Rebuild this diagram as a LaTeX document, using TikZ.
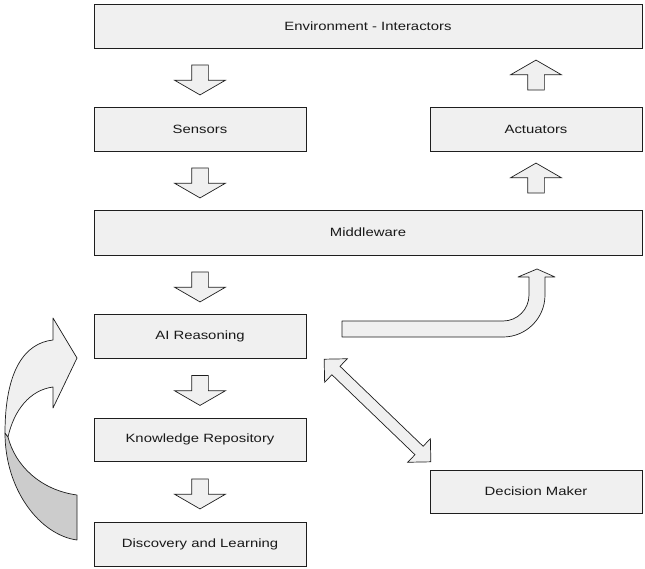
\documentclass[tikz,border=0pt]{standalone}
\usepackage{fontspec}
\setmainfont{Liberation Sans}[FakeStretch=1.24]
\usepackage{tikz}
\usetikzlibrary{calc,positioning,shapes.arrows}
\definecolor{boxfill}{RGB}{240,240,240}
\definecolor{backfill}{RGB}{204,204,204}
\definecolor{edge}{RGB}{30,30,30}
\tikzset{%
  % Specifications for style of nodes:
  base/.style = {rectangle, draw=edge, line width=0.9pt, fill=boxfill,
    minimum width=212pt,
    minimum height=44pt,
    text centered, text=black!90, font=\fontsize{12}{14}\selectfont},
  wide/.style = {base, minimum width=548pt},
  blockarrow/.style = {single arrow, draw=edge, fill=boxfill, line width=0.7pt,
    minimum height=30pt, inner xsep=0pt, inner ysep=8pt,
    single arrow head extend=17pt, single arrow tip angle=120},
  blockdown/.style = {blockarrow, rotate=-90},
  blockup/.style = {blockarrow, rotate=90},
  bothway/.style = {double arrow, draw=edge, fill=boxfill, line width=0.7pt,
    minimum height=148pt, inner xsep=0pt, inner ysep=5.5pt,
    double arrow head extend=10.5pt},
  bent/.style = {draw=edge, fill=boxfill, line width=0.7pt, line join=round},
}

\begin{document}
\begin{tikzpicture}[x=1pt, y=-1pt]
  \useasboundingbox (0,0) rectangle (645,568);
  % Specification of nodes (position, etc.)
  \node(Env)[wide] at (368,26) {Environment - Interactors};
  \node(Sens)[base] at (200,129) {Sensors};
  \node(Act)[base] at (536,129) {Actuators};
  \node(Mid)[wide, minimum height=45pt] at (368,232.5) {Middleware};
  \node(AI)[base] at (200,336) {AI Reasoning};
  \node(Know)[base, minimum height=43pt] at (200,439.5) {Knowledge Repository};
  \node(Dec)[base, minimum height=43pt] at (536,491.5) {Decision Maker};
  \node(Disc)[base] at (200,544) {Discovery and Learning};
  % block arrows between the boxes
  \node(EnvSens)[blockdown] at ($(Env.south -| Sens)!.5!(Sens.north)$) {};
  \node(SensMid)[blockdown] at ($(Sens.south)!.5!(Mid.north -| Sens)$) {};
  \node(MidAI)[blockdown] at ($(Mid.south -| AI)!.5!(AI.north)$) {};
  \node(AIKnow)[blockdown] at ($(AI.south)!.5!(Know.north)$) {};
  \node(KnowDisc)[blockdown] at ($(Know.south)!.5!(Disc.north)$) {};
  \node(ActEnv)[blockup] at ($(Act.north)!.5!(Env.south -| Act)$) {};
  \node(MidAct)[blockup] at ($(Mid.north -| Act)!.5!(Act.south)$) {};
  \node(AIDec)[bothway, rotate=-43.9] at (377.5,410.5) {};
  % bent arrow from the reasoning up to the middleware
  \path[bent] (342,321) -- (503,321) .. controls (517.4,321) and (529,309.4) .. (529,295)
    -- (529,277) -- (518,277) -- (537,269) -- (555,277) -- (545,277) -- (545,295)
    .. controls (545,318.2) and (526.2,337) .. (503,337) -- (342,337) -- cycle;
  % curved feedback arrow on the left
  \path[bent, fill=backfill] (5,433) .. controls (5,490) and (40,535) .. (77,540)
    -- (77,495) .. controls (40,490) and (15,465) .. (8,437) -- cycle;
  \path[bent] (53,340) .. controls (25,343) and (5,370) .. (5,433)
    -- (8,437) .. controls (14,410) and (30,390) .. (53,387)
    -- (53,408) -- (77,358) -- (53,318) -- cycle;
\end{tikzpicture}
\end{document}
